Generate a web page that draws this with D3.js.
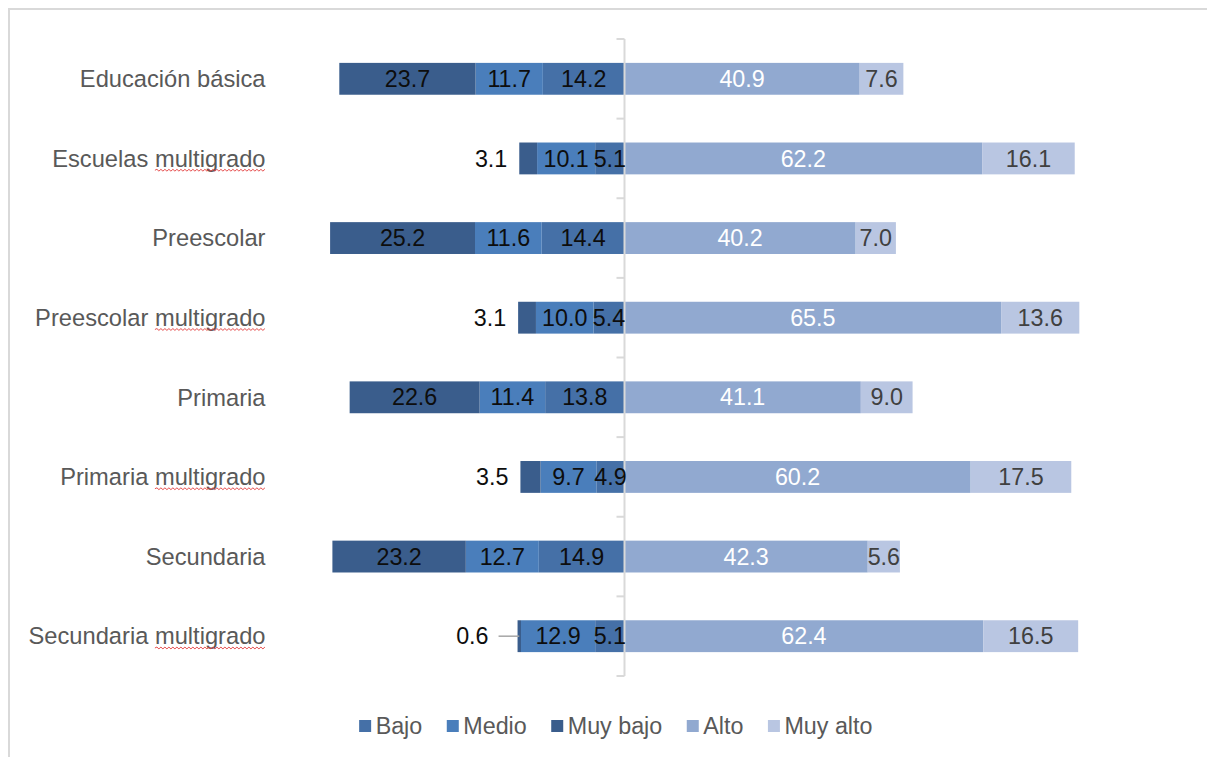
<!DOCTYPE html>
<html>
<head>
<meta charset="utf-8">
<script src="https://cdn.jsdelivr.net/npm/d3@7"></script>
<style>
  html, body { margin: 0; padding: 0; background: #fff; }
  svg { display: block; }
  text { font-family: "Liberation Sans", Arial, sans-serif; }
</style>
</head>
<body>
<svg id="chart" width="1207" height="757"></svg>
<script>
const categories = ["Educación básica", "Escuelas multigrado", "Preescolar", "Preescolar multigrado",
                    "Primaria", "Primaria multigrado", "Secundaria", "Secundaria multigrado"];
const muyBajo = [23.7, 3.1, 25.2, 3.1, 22.6, 3.5, 23.2, 0.6];
const bajo    = [14.2, 5.1, 14.4, 5.4, 13.8, 4.9, 14.9, 5.1];
const medio   = [11.7, 10.1, 11.6, 10.0, 11.4, 9.7, 12.7, 12.9];
const alto    = [40.9, 62.2, 40.2, 65.5, 41.1, 60.2, 42.3, 62.4];
const muyAlto = [7.6, 16.1, 7.0, 13.6, 9.0, 17.5, 5.6, 16.5];
const legendOrder = ["Bajo", "Medio", "Muy bajo", "Alto", "Muy alto"];
const xDomain = [-60, 80];

const colors = { "Bajo": "#4570a7", "Medio": "#4a7ebb", "Muy bajo": "#3a5d8c", "Alto": "#91a9d0", "Muy alto": "#b9c6e2" };
const labelColors = { "Bajo": "#0d0d0d", "Medio": "#0d0d0d", "Muy bajo": "#0d0d0d", "Alto": "#ffffff", "Muy alto": "#404040" };
const FS = 23.3;
const FS_CAT = 23.7;

const svg = d3.select("#chart");

// outer frame
svg.append("line").attr("x1", 8).attr("x2", 1207).attr("y1", 9).attr("y2", 9)
  .attr("stroke", "#d9d9d9").attr("stroke-width", 2);
svg.append("line").attr("x1", 9).attr("x2", 9).attr("y1", 8).attr("y2", 757)
  .attr("stroke", "#d9d9d9").attr("stroke-width", 2);

const x = d3.scaleLinear().domain(xDomain).range([279.5, 1084.5]);
const y = d3.scaleBand().domain(categories).range([39, 676]).paddingInner(0.6).paddingOuter(0.3);

// build segments
const series = {
  "Bajo": bajo, "Medio": medio, "Muy bajo": muyBajo, "Alto": alto, "Muy alto": muyAlto
};
const leftOrder = ["Bajo", "Medio", "Muy bajo"];   // stacked outward from zero to the left
const rightOrder = ["Alto", "Muy alto"];            // stacked outward from zero to the right
const segs = [];
categories.forEach((c, i) => {
  let acc = 0;
  leftOrder.forEach((k, j) => {
    const v = series[k][i];
    segs.push({ cat: c, key: k, v, a: -(acc + v), b: -acc, outer: j === leftOrder.length - 1 });
    acc += v;
  });
  acc = 0;
  rightOrder.forEach(k => {
    const v = series[k][i];
    segs.push({ cat: c, key: k, v, a: acc, b: acc + v, outer: false });
    acc += v;
  });
});

const clipMax = x(xDomain[1]);
svg.append("g").selectAll("rect").data(segs).join("rect")
  .attr("x", d => x(d.a))
  .attr("width", d => Math.min(x(d.b), clipMax) - x(d.a))
  .attr("y", d => y(d.cat))
  .attr("height", y.bandwidth())
  .attr("fill", d => colors[d.key]);

// category axis at zero
const x0 = x(0);
const yTop = y.range()[0], yBottom = y.range()[1];
const ax = svg.append("g").attr("stroke", "#d9d9d9").attr("stroke-width", 2);
ax.append("line").attr("x1", x0).attr("x2", x0).attr("y1", yTop).attr("y2", yBottom);
d3.range(categories.length + 1).forEach(i => {
  const yy = yTop + i * y.step();
  ax.append("line").attr("x1", x0 - 8).attr("x2", x0).attr("y1", yy).attr("y2", yy);
});

// data labels
const fmt = d3.format(".1f");
const lg = svg.append("g").attr("font-size", FS);
segs.forEach(d => {
  const cy = y(d.cat) + y.bandwidth() / 2;
  const xa = x(d.a), xb = x(d.b);
  if (d.outer && d.v < 4) {
    const far = d.v < 1;
    const tx = xa - (far ? 29 : 12);
    lg.append("text").attr("x", tx).attr("y", cy).attr("dy", "0.35em")
      .attr("text-anchor", "end").attr("fill", "#0d0d0d").text(fmt(d.v));
    if (far) {
      lg.append("line").attr("x1", xa - 19).attr("x2", (xa + xb) / 2)
        .attr("y1", cy).attr("y2", cy).attr("stroke", "#a6a6a6").attr("stroke-width", 1.5);
    }
  } else {
    lg.append("text").attr("x", (xa + Math.min(xb, clipMax)) / 2).attr("y", cy).attr("dy", "0.35em")
      .attr("text-anchor", "middle").attr("fill", labelColors[d.key]).text(fmt(d.v));
  }
});

// category labels
const cg = svg.append("g").attr("font-size", FS_CAT).attr("fill", "#595959");
categories.forEach(c => {
  const cy = y(c) + y.bandwidth() / 2;
  const t = cg.append("text").attr("x", 265.5).attr("y", cy).attr("dy", "0.35em")
    .attr("text-anchor", "end").text(c);
  const idx = c.indexOf("multigrado");
  if (idx >= 0) {
    const node = t.node();
    const total = node.getComputedTextLength();
    const start = 265.5 - total + node.getSubStringLength(0, idx);
    const end = 265.5 - total + node.getSubStringLength(0, c.length);
    const base = cy + FS_CAT * 0.35 + 3.5;
    let p = "M" + start + "," + base;
    let up = true;
    for (let xx = start + 2; xx <= end; xx += 2) {
      p += "L" + xx + "," + (base + (up ? -1 : 1) * 0.9);
      up = !up;
    }
    svg.append("path").attr("d", p).attr("fill", "none").attr("stroke", "#e23a3a").attr("stroke-width", 0.9);
  }
});

// legend
const leg = svg.append("g").attr("font-size", FS).attr("fill", "#595959");
const sq = 12, gapSq = 16.5, gapItem = 24.5;
const items = [];
let cx = 0;
legendOrder.forEach(k => {
  const t = leg.append("text").attr("y", 726).attr("dy", "0.35em").text(k);
  const w = t.node().getComputedTextLength();
  items.push({ k, t, x: cx });
  cx += gapSq + w + gapItem;
});
const totalW = cx - gapItem;
const startX = 615.8 - totalW / 2;
items.forEach(it => {
  leg.append("rect").attr("x", startX + it.x).attr("y", 726 - sq / 2).attr("width", sq).attr("height", sq)
    .attr("fill", colors[it.k]);
  it.t.attr("x", startX + it.x + gapSq);
});
</script>
</body>
</html>
